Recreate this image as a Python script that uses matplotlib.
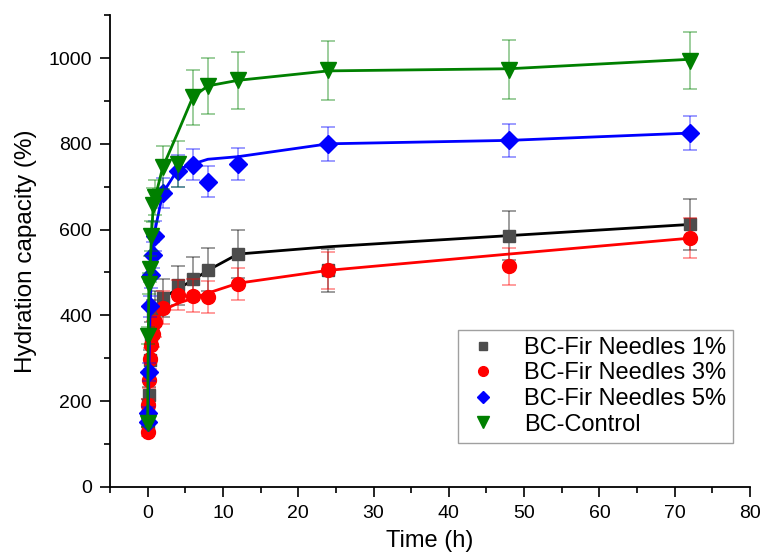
import matplotlib.pyplot as plt
from matplotlib.lines import Line2D

plt.rcParams['font.family'] = ['Liberation Sans', 'DejaVu Sans']

# sampling times (h)
time = [0, 0.083, 0.167, 0.333, 0.5, 0.75, 1, 2, 4, 6, 8, 12, 24, 48, 72]

labels = ['BC-Fir Needles 1%', 'BC-Fir Needles 3%', 'BC-Fir Needles 5%', 'BC-Control']

# measured values
fir1 = [150, 190, 214, 295, 355, 400, 416, 441, 470, 485, 506, 543, 505, 586, 612]
fir3 = [129, 191, 250, 299, 330, 357, 384, 418, 448, 446, 443, 474, 505, 514, 580]
fir5 = [152, 172, 268, 421, 493, 540, 586, 685, 737, 751, 712, 753, 800, 808, 825]
ctrl = [150, 353, 474, 509, 584, 657, 675, 745, 753, 909, 935, 948, 971, 973, 994]

# error bars
fir1_err = [10, 15, 20, 25, 30, 35, 40, 44, 46, 50, 50, 55, 50, 58, 59]
fir3_err = [10, 15, 20, 25, 30, 30, 35, 38, 35, 38, 38, 37, 43, 42, 46]
fir5_err = [10, 15, 20, 25, 30, 30, 35, 35, 37, 36, 37, 37, 40, 39, 40]
ctrl_err = [10, 20, 25, 30, 35, 40, 40, 50, 53, 64, 66, 66, 69, 68, 66]

# fitted curves (at the same times)
fir1_fit = [150, 190, 214, 295, 355, 390, 410, 440, 462, 482, 505, 543, 560, 586, 612]
fir3_fit = [129, 191, 250, 299, 330, 357, 384, 412, 428, 440, 452, 475, 505, 543, 580]
fir5_fit = [152, 172, 268, 421, 493, 560, 600, 685, 740, 753, 764, 770, 800, 808, 825]
ctrl_fit = [150, 353, 474, 509, 584, 657, 675, 745, 826, 909, 935, 948, 970, 975, 997]

series = [
    (fir1, fir1_err, fir1_fit, '#4d4d4d', 'black', 's', 9),
    (fir3, fir3_err, fir3_fit, 'red', 'red', 'o', 10),
    (fir5, fir5_err, fir5_fit, 'blue', 'blue', 'D', 9),
    (ctrl, ctrl_err, ctrl_fit, 'green', 'green', 'v', 12),
]

fig = plt.figure(figsize=(7.66, 5.6), dpi=100)
ax = fig.add_axes([0.1436, 0.1304, 0.8355, 0.8426])

handles = []
for (y, err, fit, mcol, lcol, mk, ms), lab in zip(series, labels):
    ax.errorbar(time, y, yerr=err, fmt='none', ecolor=lcol, alpha=0.45,
                elinewidth=1.2, capsize=5, capthick=1.2)
    ax.plot(time, fit, color=lcol, lw=2)
    ax.plot(time, y, linestyle='none', marker=mk, ms=ms, color=mcol,
            markeredgecolor=mcol)
    handles.append(Line2D([], [], linestyle='none', marker=mk, ms=ms * 0.7,
                          color=mcol, label=lab))

ax.set_xlim(-5, 80)
ax.set_ylim(0, 1100)
ax.set_xticks(range(0, 81, 10))
ax.set_xticks(range(-5, 81, 5), minor=True)
ax.set_yticks(range(0, 1001, 200))
ax.set_yticks(range(0, 1101, 100), minor=True)

for side in ['top', 'right']:
    ax.spines[side].set_visible(False)
for side in ['left', 'bottom']:
    ax.spines[side].set_linewidth(1.3)

ax.tick_params(which='major', direction='out', length=7, width=1.2,
               labelsize=14, pad=6)
ax.tick_params(which='minor', direction='out', length=4, width=1.2)

ax.set_xlabel('Time (h)', fontsize=17, labelpad=6)
ax.set_ylabel('Hydration capacity (%)', fontsize=17.5, labelpad=8)

leg = ax.legend(handles=handles, loc='upper left', bbox_to_anchor=(0.544, 0.333),
                borderaxespad=0, fontsize=17, frameon=True, fancybox=False,
                handlelength=1.5, handletextpad=1.0, borderpad=0.3,
                labelspacing=0.15)
leg.get_frame().set_edgecolor('#888888')
leg.get_frame().set_linewidth(1.0)

fig.savefig('out.png', dpi=100)
